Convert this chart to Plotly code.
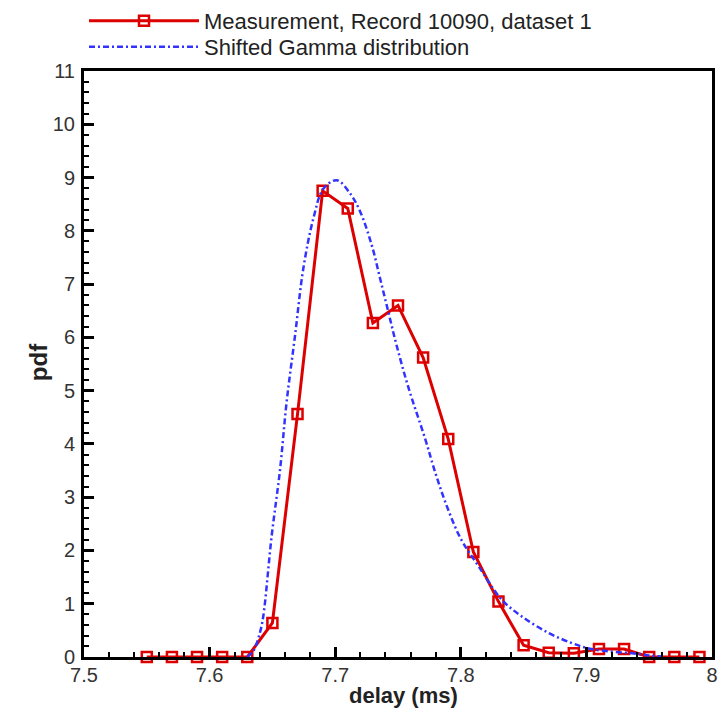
import plotly.graph_objects as go

# Measurement data
meas_x = [7.55, 7.57, 7.59, 7.61, 7.63, 7.65, 7.67, 7.69, 7.71, 7.73, 7.75, 7.77,
          7.79, 7.81, 7.83, 7.85, 7.87, 7.89, 7.91, 7.93, 7.95, 7.97, 7.99]
meas_y = [0, 0, 0, 0, 0, 0.64, 4.56, 8.75, 8.42, 6.27, 6.6, 5.62,
          4.09, 1.97, 1.04, 0.22, 0.08, 0.07, 0.15, 0.15, 0, 0, 0]

# Shifted gamma curve
gamma_x = [7.63, 7.635, 7.64, 7.6427, 7.6494, 7.6561, 7.6613, 7.668, 7.6746, 7.6826,
           7.6906, 7.7012, 7.7119, 7.7199, 7.7291, 7.7358, 7.7424, 7.749, 7.7584,
           7.7717, 7.7797, 7.7889, 7.800, 7.8142, 7.8328, 7.8487,
           7.87, 7.8886, 7.9019, 7.9205, 7.9365, 7.95, 7.96]
gamma_y = [0, 0.12, 0.45, 0.76, 2.27, 3.52, 4.78, 6.03, 7.29, 8.23,
           8.79, 8.95, 8.70, 8.36, 7.73, 7.10, 6.47, 5.84, 5.05,
           4.09, 3.46, 2.83, 2.22, 1.70, 1.07, 0.76,
           0.45, 0.26, 0.16, 0.10, 0.07, 0.03, 0.01]

x_tickvals = [7.5, 7.6, 7.7, 7.8, 7.9, 8.0]
x_ticktext = ["7.5", "7.6", "7.7", "7.8", "7.9", "8"]
y_tickvals = list(range(0, 12))

FONT = "Liberation Sans, Arial, sans-serif"

fig = go.Figure()
fig.add_trace(go.Scatter(
    x=meas_x, y=meas_y, mode="lines+markers",
    name="Measurement, Record 10090, dataset 1",
    line=dict(color="#dd0000", width=3),
    marker=dict(symbol="square-open", size=10, color="#dd0000",
                line=dict(width=2.5, color="#dd0000")),
    cliponaxis=False, legend="legend",
))
fig.add_trace(go.Scatter(
    x=gamma_x, y=gamma_y, mode="lines",
    name="Shifted Gamma distribution",
    line=dict(color="#3333ff", width=2.5, dash="6px,3px,2px,3px", shape="spline"),
    legend="legend2",
))

tick_font = dict(family=FONT, size=20, color="#333")
legend_common = dict(xanchor="left", yanchor="middle",
                     font=dict(family=FONT, size=22, color="#222"), itemwidth=110,
                     bgcolor="rgba(0,0,0,0)")
fig.update_layout(
    width=726, height=713,
    margin=dict(l=76, r=22, t=63, b=64, autoexpand=False),
    paper_bgcolor="white", plot_bgcolor="white",
    font=dict(family=FONT, size=20, color="#222"),
    legend=dict(x=0.0, y=1.0853, **legend_common),
    legend2=dict(x=0.0, y=1.041, **legend_common),
    showlegend=True,
    annotations=[
        dict(text="<b>delay (ms)</b>", x=0.509, y=-0.0655, xref="paper", yref="paper",
             xanchor="center", yanchor="middle", showarrow=False,
             font=dict(family=FONT, size=22, color="#222")),
        dict(text="<b>pdf</b>", x=-0.0734, y=0.503, xref="paper", yref="paper",
             xanchor="center", yanchor="middle", showarrow=False, textangle=-90,
             font=dict(family=FONT, size=24, color="#222")),
    ],
)
fig.update_xaxes(
    range=[7.5, 8.0], tickvals=x_tickvals, ticktext=x_ticktext, automargin=False,
    showgrid=False, zeroline=False,
    showline=True, linecolor="black", linewidth=3, mirror=True,
    ticks="inside", ticklen=10, tickwidth=2.5, tickcolor="black",
    minor=dict(dtick=0.02, tick0=7.5, ticks="inside", ticklen=5, tickwidth=1.5,
               tickcolor="black", showgrid=False),
    tickfont=tick_font, ticklabelstandoff=-2,
)
fig.update_yaxes(
    range=[0, 11], tickvals=y_tickvals, automargin=False,
    showgrid=False, zeroline=False,
    showline=True, linecolor="black", linewidth=3, mirror=True,
    ticks="inside", ticklen=10, tickwidth=2.5, tickcolor="black",
    minor=dict(dtick=0.2, tick0=0, ticks="inside", ticklen=5, tickwidth=1.5,
               tickcolor="black", showgrid=False),
    tickfont=tick_font, ticklabelstandoff=2,
)

fig.write_html("out.html")
